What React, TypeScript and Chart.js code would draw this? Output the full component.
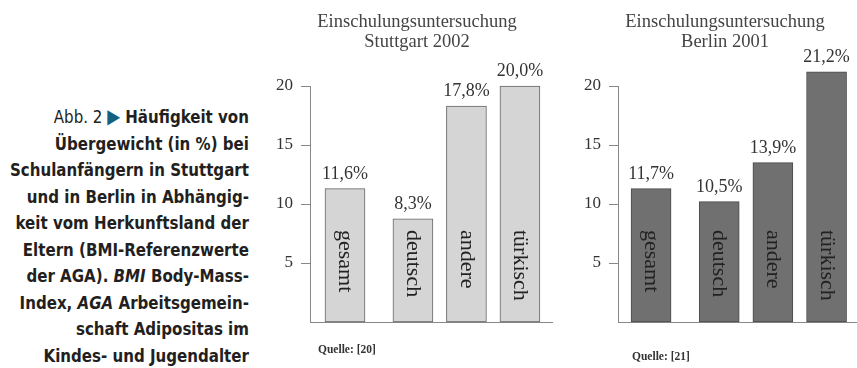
import React, { useEffect, useRef } from "react";
import { Chart, registerables } from "chart.js";

Chart.register(...registerables);

// ---------- data ----------
const categories = ["gesamt", "deutsch", "andere", "türkisch"];
const stuttgartValues = [11.3, 8.75, 18.3, 20.0];
const stuttgartLabels = ["11,6%", "8,3%", "17,8%", "20,0%"];
const berlinValues = [11.3, 10.2, 13.5, 21.2];
const berlinLabels = ["11,7%", "10,5%", "13,9%", "21,2%"];
const yTicks = [5, 10, 15, 20];
const stuttgartTitle = ["Einschulungsuntersuchung", "Stuttgart 2002"];
const berlinTitle = ["Einschulungsuntersuchung", "Berlin 2001"];
const stuttgartSource = "Quelle: [20]";
const berlinSource = "Quelle: [21]";

const captionLines: { text: string; style?: "normal" | "italic" | "tri" }[][] = [
  [{ text: "Abb. 2 ", style: "normal" }, { text: "\u25B6", style: "tri" }, { text: " Häufigkeit von" }],
  [{ text: "Übergewicht (in %) bei" }],
  [{ text: "Schulanfängern in Stuttgart" }],
  [{ text: "und in Berlin in Abhängig-" }],
  [{ text: "keit vom Herkunftsland der" }],
  [{ text: "Eltern (BMI-Referenzwerte" }],
  [{ text: "der AGA). " }, { text: "BMI", style: "italic" }, { text: " Body-Mass-" }],
  [{ text: "Index, " }, { text: "AGA", style: "italic" }, { text: " Arbeitsgemein-" }],
  [{ text: "schaft Adipositas im" }],
  [{ text: "Kindes- und Jugendalter" }],
];

const SERIF = "'Liberation Serif', 'Times New Roman', serif";
const GROUP_GAP = 0.27;

type PanelProps = {
  left: number;
  width: number;
  values: number[];
  labels: string[];
  title: string[];
  source: string;
  fill: string;
  border: string;
  xMin: number;
  xMax: number;
  titleOffset: number;
  sourceX: number;
  sourceY: number;
};

function Panel(p: PanelProps) {
  const ref = useRef<HTMLCanvasElement | null>(null);
  useEffect(() => {
    if (!ref.current) return;
    const data = p.values.map((v, i) => ({ x: i + (i > 0 ? GROUP_GAP : 0), y: v }));
    const textPlugin = {
      id: "texts",
      afterDatasetsDraw(chart: any) {
        const ctx = chart.ctx;
        const area = chart.chartArea;
        const yScale = chart.scales.y;
        const meta = chart.getDatasetMeta(0);
        ctx.save();
        ctx.fillStyle = "#333";
        // value labels
        ctx.font = `18px ${SERIF}`;
        ctx.textAlign = "center";
        ctx.textBaseline = "alphabetic";
        meta.data.forEach((el: any, i: number) => {
          ctx.fillText(p.labels[i], el.x, el.y - 10);
        });
        // rotated category labels inside bars
        ctx.font = `22px ${SERIF}`;
        ctx.fillStyle = "#222";
        const yStart = yScale.getPixelForValue(7.8);
        meta.data.forEach((el: any, i: number) => {
          ctx.save();
          ctx.translate(el.x, yStart);
          ctx.rotate(Math.PI / 2);
          ctx.textAlign = "left";
          ctx.textBaseline = "middle";
          ctx.fillText(categories[i], 0, 0);
          ctx.restore();
        });
        // title
        ctx.fillStyle = "#444";
        ctx.font = `18.5px ${SERIF}`;
        ctx.textAlign = "center";
        ctx.textBaseline = "alphabetic";
        const tx = area.left + p.titleOffset;
        ctx.fillText(p.title[0], tx, 26.5);
        ctx.fillText(p.title[1], tx, 46.5);
        // source
        ctx.fillStyle = "#333";
        ctx.font = `bold 11.5px ${SERIF}`;
        ctx.textAlign = "left";
        ctx.textBaseline = "middle";
        ctx.fillText(p.source, p.sourceX, p.sourceY);
        ctx.restore();
      },
    };
    const chart = new Chart(ref.current, {
      type: "bar",
      data: {
        datasets: [
          {
            data,
            backgroundColor: p.fill,
            borderColor: p.border,
            borderWidth: 1,
            borderSkipped: false,
            barThickness: 40,
            clip: false,
          } as any,
        ],
      },
      options: {
        animation: false,
        responsive: false,
        events: [],
        layout: { padding: { top: 86, bottom: 46, left: 0, right: 0 } },
        plugins: { legend: { display: false }, tooltip: { enabled: false }, title: { display: false } },
        scales: {
          x: {
            type: "linear",
            min: p.xMin,
            max: p.xMax,
            offset: false,
            ticks: { display: false },
            grid: { display: false, drawTicks: false },
            border: { display: true, color: "#888", width: 1 },
            afterFit(scale: any) {
              scale.height = 0;
            },
          },
          y: {
            min: 0,
            max: 20,
            ticks: {
              stepSize: 5,
              color: "#333",
              padding: 8,
              font: { family: SERIF, size: 17 },
            },
            afterBuildTicks(scale: any) {
              scale.ticks = yTicks.map((v) => ({ value: v }));
            },
            afterFit(scale: any) {
              scale.width = 60;
            },
            grid: { drawOnChartArea: false, drawTicks: true, tickLength: 9, color: "#888" },
            border: { display: true, color: "#888", width: 1 },
          },
        },
      } as any,
      plugins: [textPlugin],
    });
    return () => chart.destroy();
  }, []);
  return (
    <canvas
      ref={ref}
      width={p.width}
      height={368}
      style={{ position: "absolute", left: p.left, top: 0, width: p.width, height: 368 }}
    />
  );
}

export default function App() {
  return (
    <div style={{ position: "fixed", left: 0, top: 0, width: 857, height: 368, background: "#fff", overflow: "hidden" }}>
      <div
        style={{
          position: "absolute",
          right: 857 - 249,
          top: 103,
          textAlign: "right",
          fontFamily: "'DejaVu Sans Condensed', sans-serif",
          fontSize: 18,
          lineHeight: "26.5px",
          color: "#231f20",
          fontWeight: "bold",
          whiteSpace: "nowrap",
          transform: "scaleX(0.93)",
          transformOrigin: "right top",
        }}
      >
        {captionLines.map((line, li) => (
          <div key={li}>
            {line.map((seg, si) => (
              <span
                key={si}
                style={{
                  fontWeight: seg.style === "normal" ? "normal" : "bold",
                  fontStyle: seg.style === "italic" ? "italic" : "normal",
                  color: seg.style === "tri" ? "#15607f" : undefined,
                  fontSize: seg.style === "tri" ? 20 : undefined,
                }}
              >
                {seg.text}
              </span>
            ))}
          </div>
        ))}
      </div>
      <Panel
        left={250}
        width={303}
        values={stuttgartValues}
        labels={stuttgartLabels}
        title={stuttgartTitle}
        source={stuttgartSource}
        fill="#d5d5d5"
        border="#666"
        xMin={-0.654}
        xMax={3.888}
        titleOffset={107}
        sourceX={68}
        sourceY={350}
      />
      <Panel
        left={558}
        width={299}
        values={berlinValues}
        labels={berlinLabels}
        title={berlinTitle}
        source={berlinSource}
        fill="#707070"
        border="#4a4a4a"
        xMin={-0.616}
        xMax={3.837}
        titleOffset={107}
        sourceX={74}
        sourceY={357}
      />
    </div>
  );
}
